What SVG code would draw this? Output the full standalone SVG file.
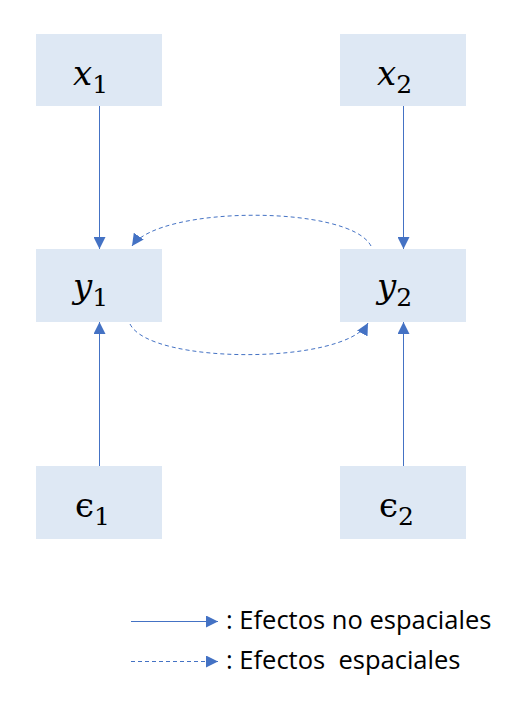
<svg xmlns="http://www.w3.org/2000/svg" width="526" height="708" viewBox="0 0 526 708">
<style>
.box{fill:#dee8f4}
.m{font-family:"DejaVu Serif","Liberation Serif",serif;font-style:italic;font-size:34px;fill:#000}
.s{font-style:normal;font-size:25px}
.solid{stroke:#4472c4;stroke-width:1;fill:none}
.dash{stroke:#4472c4;stroke-width:1;fill:none;stroke-dasharray:4 3}
.lg{font-family:"Open Sans","Noto Sans",sans-serif;font-size:25.5px;fill:#000;white-space:pre}
</style>
<defs>
<marker id="ah" viewBox="0 0 10 10" refX="10" refY="5" markerWidth="12" markerHeight="12" markerUnits="userSpaceOnUse" orient="auto">
<path d="M0,0 L10,5 L0,10 z" fill="#4472c4"/>
</marker>
</defs>
<g id="x1"><rect class="box" x="36" y="34" width="126" height="72"/><text class="m" x="73" y="85">x<tspan class="s" dy="8">1</tspan></text></g>
<g id="x2"><rect class="box" x="340" y="34" width="126" height="72"/><text class="m" x="377" y="85">x<tspan class="s" dy="8">2</tspan></text></g>
<g id="y1"><rect class="box" x="36" y="249" width="126" height="73"/><text class="m" x="73" y="298">y<tspan class="s" dy="8">1</tspan></text></g>
<g id="y2"><rect class="box" x="340" y="249" width="126" height="73"/><text class="m" x="377" y="298">y<tspan class="s" dy="8">2</tspan></text></g>
<g id="e1"><rect class="box" x="36" y="466" width="126" height="73"/><text class="m" x="75" y="517" style="font-style:normal">ϵ<tspan class="s" dy="8">1</tspan></text></g>
<g id="e2"><rect class="box" x="340" y="466" width="126" height="73"/><text class="m" x="379" y="517" style="font-style:normal">ϵ<tspan class="s" dy="8">2</tspan></text></g>
<g id="connectors">
<line class="solid" x1="99.5" y1="106" x2="99.5" y2="249" marker-end="url(#ah)"/>
<line class="solid" x1="403.5" y1="106" x2="403.5" y2="249" marker-end="url(#ah)"/>
<line class="solid" x1="99.5" y1="466" x2="99.5" y2="322" marker-end="url(#ah)"/>
<line class="solid" x1="403.5" y1="466" x2="403.5" y2="322" marker-end="url(#ah)"/>
<path class="dash" d="M371,246 C350,205 160,205 132,246" marker-end="url(#ah)"/>
<path class="dash" d="M130,324 C150,365 345,365 368,323" marker-end="url(#ah)"/>
</g>
<g id="legend">
<line class="solid" x1="131" y1="621.5" x2="218" y2="621.5" marker-end="url(#ah)"/>
<text class="lg" x="226" y="629">: Efectos no espaciales</text>
<line class="dash" x1="131" y1="661.5" x2="218" y2="661.5" marker-end="url(#ah)"/>
<text class="lg" x="226" y="669" xml:space="preserve">: Efectos  espaciales</text>
</g>
</svg>
